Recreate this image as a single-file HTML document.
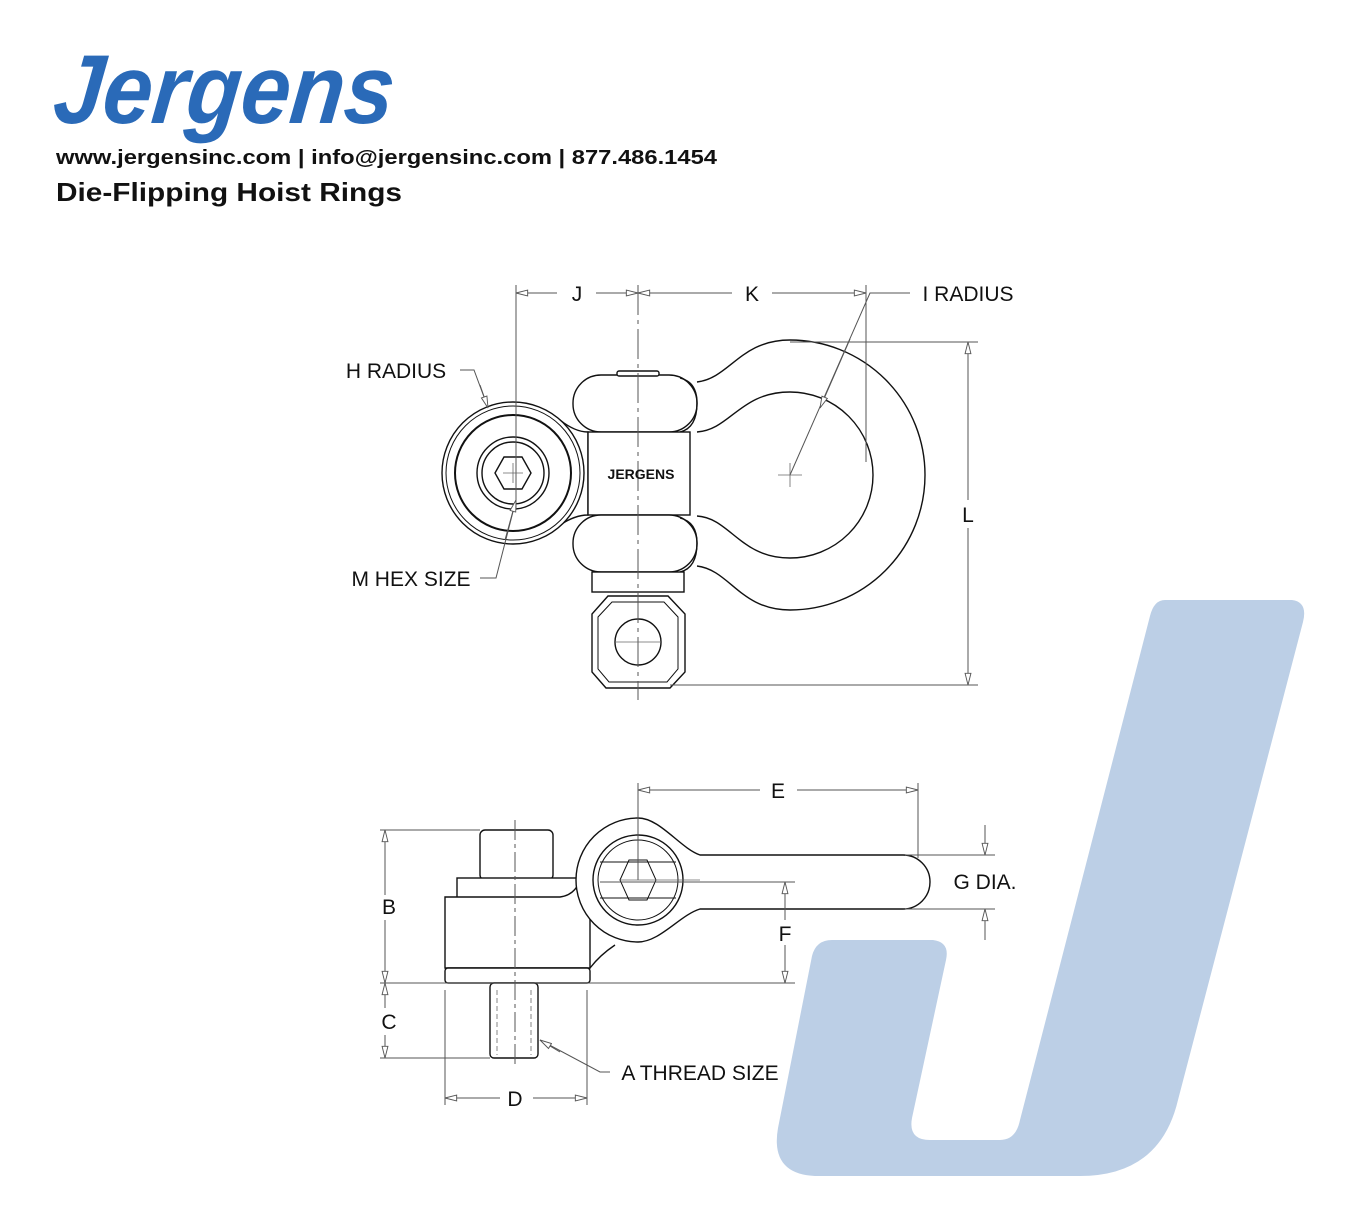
<!DOCTYPE html>
<html><head><meta charset="utf-8"><style>
body{margin:0;width:1360px;height:1200px;background:#fff;overflow:hidden;font-family:"Liberation Sans",sans-serif}
</style></head><body>
<svg width="1360" height="1200" viewBox="0 0 1360 1200" xmlns="http://www.w3.org/2000/svg">
<defs>
<marker id="a" viewBox="0 0 10 6" refX="10" refY="3" markerWidth="14" markerHeight="7" orient="auto-start-reverse" markerUnits="userSpaceOnUse">
<path d="M0,0.5 L10,3 L0,5.5 Z" fill="#fff" stroke="#555" stroke-width="0.8"/>
</marker>
</defs>
<path d="M1165,600 L1292,600 Q1308,602 1303,622 L1178,1100 Q1160,1176 1080,1176 L815,1176 Q770,1174 778,1128 L812,956 Q816,940 832,940 L933,940 Q950,942 946,960 L912,1118 Q908,1140 930,1140 L1000,1140 Q1016,1140 1020,1120 L1150,616 Q1154,600 1165,600 Z" fill="#bccfe6"/>
<text x="52" y="123" font-size="98" font-weight="bold" font-style="italic" fill="#2a6ab8" textLength="340" lengthAdjust="spacingAndGlyphs" transform="skewX(-6) translate(12,0)">Jergens</text>
<text x="56" y="164" font-size="20" font-weight="bold" fill="#111" textLength="661" lengthAdjust="spacingAndGlyphs">www.jergensinc.com | info@jergensinc.com | 877.486.1454</text>
<text x="56" y="201" font-size="26" font-weight="bold" fill="#111" textLength="346" lengthAdjust="spacingAndGlyphs">Die-Flipping Hoist Rings</text>

<g fill="#fff" stroke="#111" stroke-width="1.4">
<path d="M697,382 C730,378 740,340 790,340 A135,135 0 0 1 790,610 C740,610 730,570 697,566"/>
<path d="M697,432 C730,430 740,392 790,392 A83,83 0 0 1 790,558 C740,558 730,518 697,516"/>
<path d="M560,420 Q575,432 588,432 L588,515 Q575,515 560,525 Z"/>
<circle cx="513" cy="473" r="71"/>
<circle cx="513" cy="473" r="67" fill="none" stroke-width="1"/>
<circle cx="513" cy="473" r="58" stroke-width="2"/>
<circle cx="513" cy="473" r="36"/>
<circle cx="513" cy="473" r="31"/>
<polygon points="495,473 504,457 522,457 531,473 522,489 504,489"/>
<rect x="573" y="375" width="124" height="57" rx="28"/>
<path d="M680,378 Q697,382 697,403 Q697,428 680,432" fill="none"/>
<rect x="617" y="371" width="42" height="5" rx="2"/>
<rect x="588" y="432" width="102" height="83"/>
<rect x="573" y="515" width="124" height="57" rx="28"/>
<path d="M680,518 Q697,522 697,543 Q697,568 680,572" fill="none"/>
<rect x="592" y="572" width="92" height="20"/>
<path d="M608,596 L668,596 L685,614 L685,672 L670,688 L606,688 L592,672 L592,614 Z"/>
<path d="M612,602 L664,602 L678,617 L678,669 L667,682 L609,682 L598,669 L598,617 Z" fill="none" stroke-width="1"/>
<circle cx="638" cy="642" r="23"/>
<rect x="480" y="830" width="73" height="50" rx="5"/>
<rect x="457" y="878" width="120" height="20"/>
<path d="M445,897 L560,897 Q575,895 580,880 L590,880 L590,968 L445,968 Z"/>
<path d="M590,968 Q600,955 615,945" fill="none"/>
<rect x="445" y="968" width="145" height="15" rx="3"/>
<rect x="490" y="983" width="48" height="75" rx="4"/>
<path d="M700,855 L903,855 A27,27 0 0 1 903,909 L700,909 C680,915 660,942 638,942 A62,62 0 0 1 638,818 C660,818 680,848 700,855 Z"/>
<circle cx="638" cy="880" r="45"/>
<circle cx="638" cy="880" r="40" fill="none" stroke-width="1"/>
<polygon points="620,880 629,860 647,860 656,880 647,900 629,900" fill="none" stroke-width="1"/>
<line x1="600" y1="862" x2="676" y2="862" stroke-width="1"/>
<line x1="600" y1="898" x2="676" y2="898" stroke-width="1"/>
</g>

<g fill="none" stroke="#555" stroke-width="1">
<line x1="516" y1="285" x2="516" y2="510"/>
<line x1="638" y1="285" x2="638" y2="700" stroke-dasharray="30,5,4,5"/>
<line x1="866" y1="285" x2="866" y2="462"/>
<line x1="557" y1="293" x2="516" y2="293" marker-end="url(#a)"/>
<line x1="596" y1="293" x2="638" y2="293" marker-end="url(#a)"/>
<line x1="732" y1="293" x2="638" y2="293" marker-end="url(#a)"/>
<line x1="772" y1="293" x2="866" y2="293" marker-end="url(#a)"/>
<polyline points="910,293 870,293 790,475"/>
<line x1="850" y1="339" x2="820" y2="408" marker-end="url(#a)"/>
<line x1="790" y1="342" x2="978" y2="342"/>
<line x1="670" y1="685" x2="978" y2="685"/>
<line x1="968" y1="500" x2="968" y2="342" marker-end="url(#a)"/>
<line x1="968" y1="528" x2="968" y2="685" marker-end="url(#a)"/>
<polyline points="460,370 474,370 487,405"/>
<line x1="480" y1="385" x2="488" y2="408" marker-end="url(#a)"/>
<polyline points="480,578 496,578 516,500"/>
<line x1="505" y1="540" x2="516" y2="500" marker-end="url(#a)"/>
<line x1="380" y1="830" x2="480" y2="830"/>
<line x1="380" y1="983" x2="795" y2="983"/>
<line x1="380" y1="1058" x2="490" y2="1058"/>
<line x1="385" y1="895" x2="385" y2="830" marker-end="url(#a)"/>
<line x1="385" y1="920" x2="385" y2="983" marker-end="url(#a)"/>
<line x1="385" y1="1008" x2="385" y2="983" marker-end="url(#a)"/>
<line x1="385" y1="1035" x2="385" y2="1058" marker-end="url(#a)"/>
<line x1="445" y1="990" x2="445" y2="1105"/>
<line x1="587" y1="990" x2="587" y2="1105"/>
<line x1="500" y1="1098" x2="445" y2="1098" marker-end="url(#a)"/>
<line x1="533" y1="1098" x2="587" y2="1098" marker-end="url(#a)"/>
<line x1="638" y1="783" x2="638" y2="880"/>
<line x1="918" y1="783" x2="918" y2="858"/>
<line x1="760" y1="790" x2="638" y2="790" marker-end="url(#a)"/>
<line x1="797" y1="790" x2="918" y2="790" marker-end="url(#a)"/>
<line x1="600" y1="882" x2="795" y2="882"/>
<line x1="785" y1="920" x2="785" y2="882" marker-end="url(#a)"/>
<line x1="785" y1="945" x2="785" y2="983" marker-end="url(#a)"/>
<line x1="905" y1="855" x2="995" y2="855"/>
<line x1="905" y1="909" x2="995" y2="909"/>
<line x1="985" y1="825" x2="985" y2="855" marker-end="url(#a)"/>
<line x1="985" y1="940" x2="985" y2="909" marker-end="url(#a)"/>
<polyline points="610,1072 600,1072 540,1040"/>
<line x1="560" y1="1052" x2="540" y2="1040" marker-end="url(#a)"/>
<line x1="515" y1="820" x2="515" y2="1068" stroke-dasharray="20,4,4,4"/>
</g>
<g stroke="#666" stroke-width="0.8">
<line x1="503" y1="473" x2="523" y2="473"/><line x1="513" y1="463" x2="513" y2="483"/>
<line x1="778" y1="475" x2="802" y2="475"/><line x1="790" y1="463" x2="790" y2="487"/>
<line x1="615" y1="642" x2="661" y2="642"/>
<line x1="620" y1="880" x2="700" y2="880"/>
<line x1="497" y1="990" x2="497" y2="1055" stroke-dasharray="5,3"/><line x1="531" y1="990" x2="531" y2="1055" stroke-dasharray="5,3"/>
</g>
<text x="641" y="479" font-size="14" font-weight="bold" text-anchor="middle" fill="#111">JERGENS</text>
<g font-size="21" fill="#111" text-anchor="middle">
<text x="577" y="301">J</text>
<text x="752" y="301">K</text>
<text x="968" y="301">I RADIUS</text>
<text x="396" y="378">H RADIUS</text>
<text x="411" y="586">M HEX SIZE</text>
<text x="968" y="522">L</text>
<text x="778" y="798">E</text>
<text x="389" y="914">B</text>
<text x="389" y="1029">C</text>
<text x="515" y="1106">D</text>
<text x="785" y="941">F</text>
<text x="985" y="889">G DIA.</text>
<text x="700" y="1080">A THREAD SIZE</text>
</g>
</svg>
</body></html>
